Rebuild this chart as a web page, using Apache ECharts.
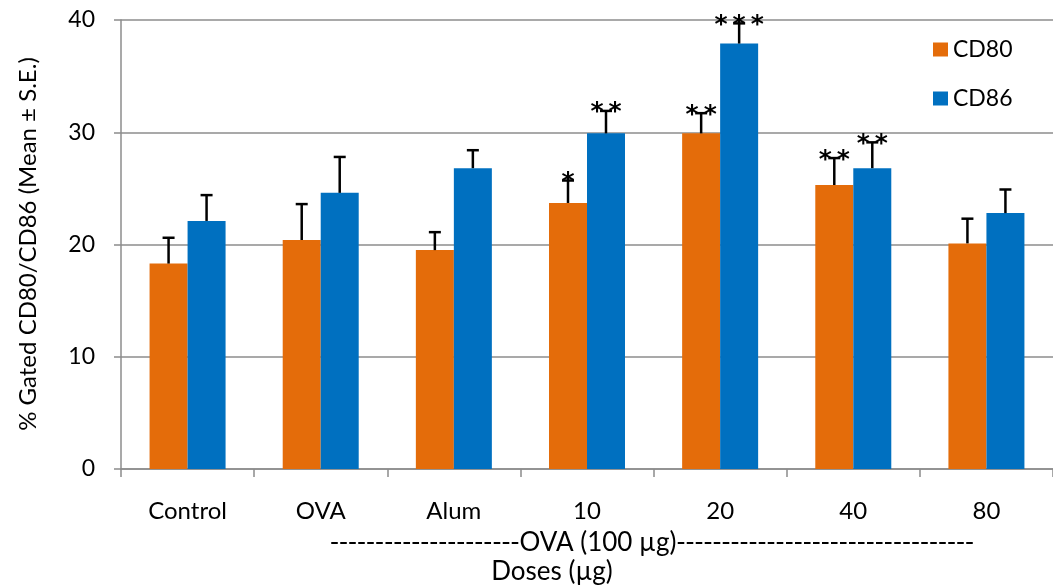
<!DOCTYPE html>
<html><head><meta charset="utf-8">
<script src="https://cdn.jsdelivr.net/npm/echarts@6/dist/echarts.min.js"></script>
<style>html,body{margin:0;padding:0;background:#fff}#c{width:1053px;height:586px}</style>
</head><body><div id="c"></div>
<script>
const categories = ['Control', 'OVA', 'Alum', '10', '20', '40', '80'];
const seriesNames = ['CD80', 'CD86'];
const cd80 = [18.3, 20.4, 19.5, 23.7, 29.9, 25.3, 20.1];
const cd86 = [22.1, 24.6, 26.8, 29.9, 37.9, 26.8, 22.8];
const se80 = [2.3, 3.2, 1.6, 2.0, 1.8, 2.4, 2.2];
const se86 = [2.3, 3.2, 1.6, 2.0, 1.8, 2.3, 2.1];
const sig80 = ['', '', '', '*', '**', '**', ''];
const sig86 = ['', '', '', '**', '***', '**', ''];
const yMin = 0, yMax = 40, yStep = 10;
const yTitle = '% Gated CD80/CD86 (Mean \u00B1 S.E.)';
const groupLabel = 'OVA (100 \u00B5g)';
const xTitle = 'Doses (\u00B5g)';

const FONT = 'Lato';
const C80 = '#E46C0A', C86 = '#0070C0';
const BW = 38;

function errSeries(vals, se, sig, dx) {
  return {
    type: 'custom', silent: true, z: 5,
    data: vals.map((v, i) => [i, v, v + se[i]]),
    encode: { x: 0, y: [1, 2] },
    renderItem: (params, api) => {
      const i = api.value(0);
      const b = api.coord([i, api.value(1)]);
      const t = api.coord([i, api.value(2)]);
      const x = b[0] + dx;
      const st = { stroke: '#000', lineWidth: 2.5 };
      const children = [
        { type: 'line', shape: { x1: x, y1: b[1], x2: x, y2: t[1] }, style: st },
        { type: 'line', shape: { x1: x - 6, y1: t[1], x2: x + 6, y2: t[1] }, style: st }
      ];
      const s = sig[params.dataIndex];
      if (s) children.push({ type: 'text', x: x, y: t[1] + 2,
        style: { text: s.split('').join('\u2009'), fill: '#000', font: 'bold 25px "DejaVu Sans"', align: 'center', verticalAlign: 'middle' } });
      return { type: 'group', children };
    }
  };
}

const chart = echarts.init(document.getElementById('c'));
chart.setOption({
  animation: false,
  backgroundColor: '#fff',
  grid: { left: 121, top: 20, width: 938, height: 449, containLabel: false },
  legend: {
    data: seriesNames, orient: 'vertical', left: 933, top: 38, padding: 0,
    icon: 'rect', itemWidth: 15, itemHeight: 14, itemGap: 26,
    textStyle: { fontFamily: FONT, fontSize: 23, color: '#000' }
  },
  xAxis: {
    type: 'category', data: categories,
    axisLine: { lineStyle: { color: '#8c8c8c', width: 1.5 } },
    axisTick: { show: true, length: 8, lineStyle: { color: '#8c8c8c', width: 1.5 } },
    axisLabel: { margin: 30, fontFamily: FONT, fontSize: 24, color: '#000' }
  },
  yAxis: {
    type: 'value', min: yMin, max: yMax, interval: yStep,
    axisLine: { show: true, lineStyle: { color: '#8c8c8c', width: 1.5 } },
    axisTick: { show: true, length: 7, lineStyle: { color: '#8c8c8c', width: 1.5 } },
    axisLabel: { margin: 26, fontFamily: FONT, fontSize: 23, color: '#000' },
    splitLine: { lineStyle: { color: '#8c8c8c', width: 1.5 } }
  },
  graphic: [
    { type: 'text', x: 28, y: 244, rotation: Math.PI / 2,
      style: { text: yTitle, font: '24px ' + FONT, fill: '#000', align: 'center', verticalAlign: 'middle' } },
    { type: 'text', x: 330, y: 543,
      style: {
        text: '{d|' + '-'.repeat(21) + '}{t|' + groupLabel + '}{d|' + '-'.repeat(33) + '}',
        align: 'left', verticalAlign: 'middle', fill: '#000',
        rich: {
          d: { fontFamily: 'DejaVu Sans', fontSize: 25, fill: '#000' },
          t: { fontFamily: FONT, fontSize: 26, fill: '#000' }
        }
      } },
    { type: 'text', x: 552, y: 572,
      style: { text: xTitle, font: '26px ' + FONT, fill: '#000', align: 'center', verticalAlign: 'middle' } }
  ],
  series: [
    { name: seriesNames[0], type: 'bar', data: cd80, barWidth: BW, barGap: 0, itemStyle: { color: C80 } },
    { name: seriesNames[1], type: 'bar', data: cd86, barWidth: BW, barGap: 0, itemStyle: { color: C86 } },
    errSeries(cd80, se80, sig80, -BW / 2),
    errSeries(cd86, se86, sig86, BW / 2)
  ]
});
</script></body></html>
